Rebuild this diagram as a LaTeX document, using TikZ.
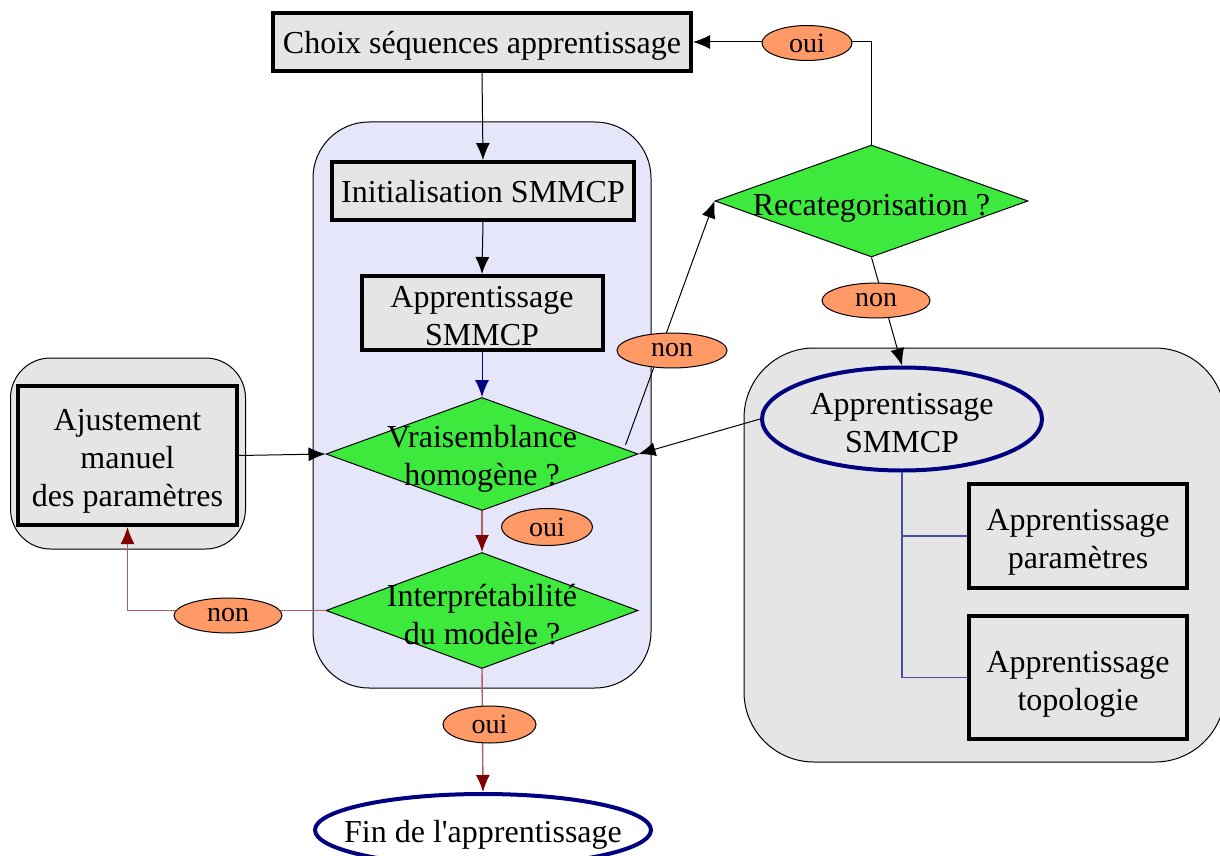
\documentclass[tikz,border=0pt]{standalone}
\usepackage{fontspec}
\setmainfont{Liberation Serif}
\usetikzlibrary{shapes.geometric,arrows.meta}
\definecolor{boxgrey}{HTML}{E5E5E5}
\definecolor{lav}{HTML}{E6E6FA}
\definecolor{diagreen}{HTML}{3DE93D}
\definecolor{lblorange}{HTML}{FF9966}
\definecolor{dred}{HTML}{800000}
\definecolor{lred}{HTML}{B06060}
\definecolor{navyc}{HTML}{000080}
\definecolor{lnavy}{HTML}{4A4AA8}
\begin{document}
\begin{tikzpicture}[x=0.5pt,y=-0.5pt,
  txt/.style={font=\fontsize{16}{19}\selectfont, align=center, inner sep=0pt},
  box/.style={draw=black, line width=2pt, fill=boxgrey, inner sep=0pt},
  dia/.style={diamond, draw=black, line width=0.5pt, fill=diagreen, inner sep=0pt},
  lbl/.style={ellipse, draw=black, line width=0.5pt, fill=lblorange, inner sep=0pt, font=\fontsize{14}{16}\selectfont},
  oval/.style={ellipse, draw=navyc, line width=2pt, inner sep=0pt},
  cluster/.style={draw=black, line width=0.5pt, inner sep=0pt},
  tip/.style={-{Latex[length=8.5pt,width=7pt]}, line width=0.5pt},
  redtip/.style={lred, line width=0.7pt, -{Latex[length=8.5pt,width=7pt,color=dred]}},
  navyline/.style={lnavy, line width=0.7pt},
]
\useasboundingbox (0,0) rectangle (1220,856);

% clusters
\node[cluster, fill=lav, rounded corners=28pt, minimum width=169pt, minimum height=283pt] (clmain) at (482,405) {};
\node[cluster, fill=boxgrey, rounded corners=20pt, minimum width=117.5pt, minimum height=95.5pt] (clleft) at (128,453.5) {};
\node[cluster, fill=boxgrey, rounded corners=35pt, minimum width=240.5pt, minimum height=207pt] (clright) at (984.5,555) {};

% shapes
\node[box, minimum width=209pt, minimum height=29pt] (choix) at (482,42) {};
\node[box, minimum width=151pt, minimum height=29pt] (init) at (483,191) {};
\node[box, minimum width=120.5pt, minimum height=37pt] (appr) at (482,313) {};
\node[dia, minimum width=156pt, minimum height=56.5pt] (vrais) at (482,454) {};
\node[dia, minimum width=156pt, minimum height=58pt] (interp) at (482,610.5) {};
\node[box, minimum width=109.5pt, minimum height=69.5pt] (ajust) at (127.5,455.5) {};
\node[dia, minimum width=156.5pt, minimum height=56pt] (recat) at (871.5,201) {};
\node[oval, fill=boxgrey, minimum width=140pt, minimum height=51.5pt] (apprell) at (902,419) {};
\node[box, minimum width=109pt, minimum height=52pt] (param) at (1078,536) {};
\node[box, minimum width=109pt, minimum height=61.5pt] (topo) at (1078,677.5) {};
\node[oval, fill=white, minimum width=168pt, minimum height=36pt] (fin) at (483,830) {};

% texts
\node[txt] (choixT) at (482,46) {Choix séquences apprentissage};
\node[txt] (initT) at (483,192) {Initialisation SMMCP};
\node[txt] (apprT) at (482,316) {Apprentissage\\SMMCP};
\node[txt] (vraisT) at (482,459) {Vraisemblance\\homogène ?};
\node[txt] (interpT) at (482,615) {Interprétabilité\\du modèle ?};
\node[txt] (ajustT) at (127.5,461.5) {Ajustement\\manuel\\des paramètres};
\node[txt] (recatT) at (871.5,208) {Recategorisation ?};
\node[txt] (apprellT) at (902,423) {Apprentissage\\SMMCP};
\node[txt] (paramT) at (1078,542) {Apprentissage\\paramètres};
\node[txt] (topoT) at (1078,684) {Apprentissage\\topologie};
\node[txt] (finT) at (483,835) {Fin de l\textquotesingle apprentissage};

% connectors
\draw[tip] (choix.south) -- (init.north);
\draw[tip] (init.south) -- (appr.north);
\draw[tip, navyc] (appr.south) -- (vrais.north);
\draw[redtip] (vrais.south) -- (interp.north);
\draw[redtip] (interp.south) -- (fin.north);
\draw[redtip] (interp.west) -| (ajust.south);
\draw[tip] (ajust.east) -- (vrais.west);
\draw[tip] ([shift={(-13,-9)}]vrais.east) -- (recat.west);
\draw[tip] (recat.south) -- (apprell.north);
\draw[tip] (recat.north) |- (choix.east);
\draw[tip] (apprell.west) -- (vrais.east);
\draw[navyline] (apprell.south) |- (param.west);
\draw[navyline] (apprell.south) |- (topo.west);

% labels
\node[lbl, minimum width=45pt, minimum height=17.5pt] (l1) at (807,43) {oui};
\node[lbl, minimum width=55pt, minimum height=17.5pt] (l2) at (672,350.5) {non};
\node[lbl, minimum width=54pt, minimum height=17.5pt] (l3) at (876,300.5) {non};
\node[lbl, minimum width=45.5pt, minimum height=18.5pt] (l4) at (547,527) {oui};
\node[lbl, minimum width=54pt, minimum height=17.5pt] (l5) at (228,615.5) {non};
\node[lbl, minimum width=46.5pt, minimum height=18.5pt] (l6) at (489.5,724.5) {oui};
\end{tikzpicture}
\end{document}
